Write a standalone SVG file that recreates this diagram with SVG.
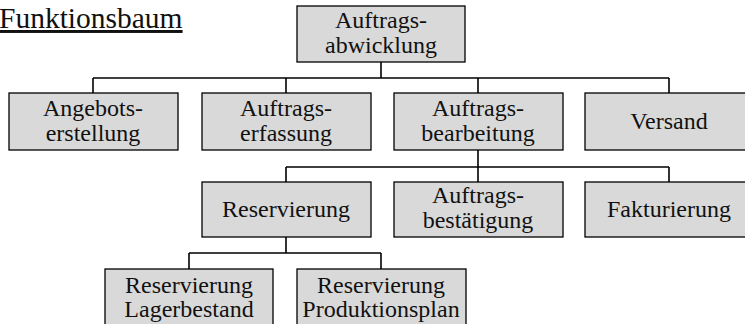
<svg xmlns="http://www.w3.org/2000/svg" width="745" height="324" viewBox="0 0 745 324">
<style>
.box{fill:#d9d9d9;stroke:#000;stroke-width:1.3}
.lbl{font-family:"Liberation Serif","Times New Roman",serif;font-size:24px;fill:#111;text-anchor:middle}
.title{font-family:"Liberation Serif","Times New Roman",serif;font-size:29.5px;fill:#111}
.conn{stroke:#000;stroke-width:1.6;fill:none}
</style>
<rect width="745" height="324" fill="#fff"/>
<text class="title" x="-1" y="28" text-decoration="underline">Funktionsbaum</text>
<g id="connectors">
<path class="conn" d="M381,62V78M93,78H669M93,78V93M286,78V93M478,78V93M669,78V93"/>
<path class="conn" d="M478,150V167M286,167H669M286,167V182M478,167V182M669,167V182"/>
<path class="conn" d="M286,237V253M189,253H381M189,253V269M381,253V269"/>
</g>
<g id="n-root"><rect class="box" x="297" y="6" width="168" height="56"/><text class="lbl" x="381" y="28">Auftrags-</text><text class="lbl" x="381" y="53">abwicklung</text></g>
<g id="n-angebot"><rect class="box" x="9" y="93" width="169" height="57"/><text class="lbl" x="93" y="116">Angebots-</text><text class="lbl" x="93" y="141">erstellung</text></g>
<g id="n-erfassung"><rect class="box" x="202" y="93" width="169" height="57"/><text class="lbl" x="286" y="116">Auftrags-</text><text class="lbl" x="286" y="141">erfassung</text></g>
<g id="n-bearbeitung"><rect class="box" x="394" y="93" width="169" height="57"/><text class="lbl" x="478" y="116">Auftrags-</text><text class="lbl" x="478" y="141">bearbeitung</text></g>
<g id="n-versand"><rect class="box" x="585" y="93" width="169" height="57"/><text class="lbl" x="669" y="129">Versand</text></g>
<g id="n-reservierung"><rect class="box" x="202" y="182" width="169" height="55"/><text class="lbl" x="286" y="217">Reservierung</text></g>
<g id="n-bestaetigung"><rect class="box" x="394" y="182" width="169" height="55"/><text class="lbl" x="478" y="203">Auftrags-</text><text class="lbl" x="478" y="228">bestätigung</text></g>
<g id="n-fakturierung"><rect class="box" x="585" y="182" width="169" height="55"/><text class="lbl" x="669" y="217">Fakturierung</text></g>
<g id="n-lager"><rect class="box" x="105" y="269" width="168" height="58"/><text class="lbl" x="189" y="293">Reservierung</text><text class="lbl" x="189" y="317">Lagerbestand</text></g>
<g id="n-produktion"><rect class="box" x="297" y="269" width="169" height="58"/><text class="lbl" x="381" y="293">Reservierung</text><text class="lbl" x="381" y="317">Produktionsplan</text></g>
</svg>
